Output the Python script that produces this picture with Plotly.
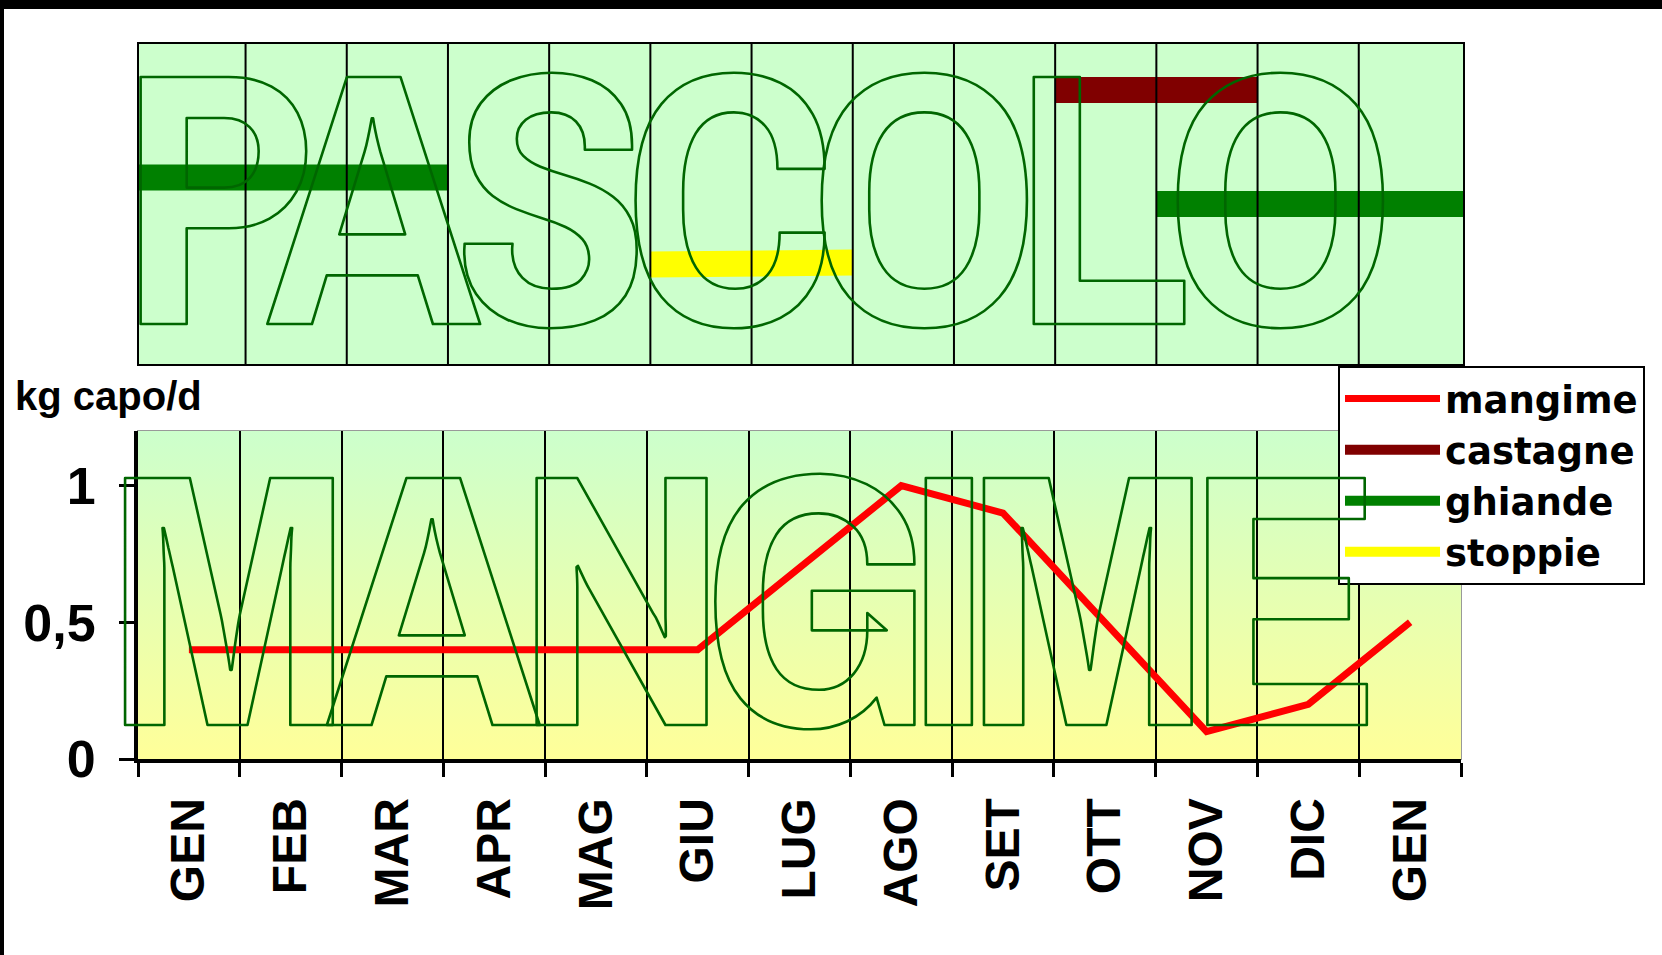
import base64
import plotly.graph_objects as go

# ---------------- data ----------------
months = ["GEN", "FEB", "MAR", "APR", "MAG", "GIU", "LUG", "AGO", "SET", "OTT", "NOV", "DIC", "GEN"]
mangime = [0.4, 0.4, 0.4, 0.4, 0.4, 0.4, 0.7, 1.0, 0.9, 0.5, 0.1, 0.2, 0.5]

# top panel ("PASCOLO"): periods expressed in month boundaries, rows as vertical positions
castagne_x = [9, 11]
castagne_y = [0.856, 0.856]
ghiande_x = [-0.1, 3, None, 10, 13.1]
ghiande_y = [0.583, 0.583, None, 0.5, 0.5]
stoppie_x = [5, 7]
stoppie_y = [0.311, 0.317]

y_ticks = [0, 0.5, 1]

W, H = 1662, 955

fig = go.Figure()

fig.add_trace(go.Scatter(x=list(range(len(months))), y=mangime, mode="lines", name="mangime",
                         line=dict(color="#FF0000", width=7), xaxis="x", yaxis="y"))
fig.add_trace(go.Scatter(x=castagne_x, y=castagne_y, mode="lines", name="castagne",
                         line=dict(color="#800000", width=26), xaxis="x2", yaxis="y2"))
fig.add_trace(go.Scatter(x=ghiande_x, y=ghiande_y, mode="lines", name="ghiande", connectgaps=False,
                         line=dict(color="#008000", width=26), xaxis="x2", yaxis="y2"))
fig.add_trace(go.Scatter(x=stoppie_x, y=stoppie_y, mode="lines", name="stoppie",
                         line=dict(color="#FFFF00", width=26), xaxis="x2", yaxis="y2"))

grad_svg = ("<svg xmlns='http://www.w3.org/2000/svg' width='10' height='100' viewBox='0 0 10 100' "
            "preserveAspectRatio='none'><defs><linearGradient id='g' x1='0' y1='0' x2='0' y2='1'>"
            "<stop offset='0' stop-color='#CCFFCC'/><stop offset='1' stop-color='#FFFF99'/>"
            "</linearGradient></defs><rect width='10' height='100' fill='url(#g)'/></svg>")
grad_src = "data:image/svg+xml;base64," + base64.b64encode(grad_svg.encode()).decode()

shapes = []
# black frame pieces of the slide
shapes.append(dict(type="rect", xref="paper", yref="paper", x0=0, x1=1, y0=1 - 9 / H, y1=1,
                   fillcolor="black", line=dict(width=0), layer="above"))
shapes.append(dict(type="rect", xref="paper", yref="paper", x0=0, x1=4 / W, y0=0, y1=1,
                   fillcolor="black", line=dict(width=0), layer="above"))
# grey border of lower plot area
shapes.append(dict(type="rect", xref="x domain", yref="y domain", x0=0, x1=1, y0=0, y1=1,
                   line=dict(color="#999999", width=2), layer="below"))
# month separators in the upper panel (drawn above the bars)
for k in range(1, len(months)):
    shapes.append(dict(type="line", xref="x2", yref="y2 domain", x0=k, x1=k, y0=0, y1=1,
                       line=dict(color="black", width=2), layer="above"))

outline = "fill:none;stroke:#006600;stroke-width:2.6px;stroke-linejoin:round;letter-spacing:{}px"
big_font = dict(family="Archivo Narrow, PT Sans Narrow, Liberation Sans, Arial", size=360, weight="bold")

annotations = [
    dict(text='<span style="' + outline.format(-27) + '">PASCOLO</span>', xref="paper", yref="paper",
         x=751.5 / W, y=1 - 193 / H, xanchor="center", yanchor="middle", showarrow=False, font=big_font),
    dict(text='<span style="' + outline.format(-25) + '">MANGIME</span>', xref="paper", yref="paper",
         x=738 / W, y=1 - 594 / H, xanchor="center", yanchor="middle", showarrow=False, font=big_font),
    dict(text="kg capo/d", xref="paper", yref="paper", x=13 / W, y=1 - 396 / H,
         xanchor="left", yanchor="middle", showarrow=False,
         font=dict(family="Liberation Sans, Arial", size=40, color="black", weight="bold")),
]

fig.update_layout(
    width=W, height=H, autosize=False,
    margin=dict(l=0, r=0, t=0, b=0, autoexpand=False),
    paper_bgcolor="white", plot_bgcolor="#CCFFCC",
    separators=",.",
    showlegend=True,
    legend=dict(x=1338 / W, y=1 - 366 / H, xanchor="left", yanchor="top",
                bgcolor="white", bordercolor="black", borderwidth=2,
                font=dict(family="DejaVu Sans", size=37, color="black", weight="bold"),
                itemwidth=95, tracegroupgap=0),
    xaxis=dict(domain=[138 / W, 1461 / W], range=[-0.5, len(months) - 0.5], automargin=False,
               tickmode="array", tickvals=list(range(len(months))), ticktext=months,
               ticks="", tickangle=-90, ticklabelstandoff=16,
               tickfont=dict(family="Liberation Sans, Arial", size=48, color="black", weight="bold"),
               showline=True, linecolor="black", linewidth=4, showgrid=False, zeroline=False,
               minor=dict(tickmode="array", tickvals=[i - 0.5 for i in range(len(months) + 1)],
                          ticks="outside", ticklen=14, tickwidth=3, tickcolor="black",
                          showgrid=True, gridcolor="black", gridwidth=2),
               fixedrange=True),
    yaxis=dict(domain=[1 - 759 / H, 1 - 431 / H], range=[0, 1.2], automargin=False,
               tickmode="array", tickvals=y_ticks, ticks="outside", ticklen=15, tickwidth=3,
               tickcolor="black", ticklabelstandoff=13,
               tickfont=dict(family="Liberation Sans, Arial", size=52, color="black", weight="bold"),
               showline=True, linecolor="black", linewidth=4, showgrid=False, zeroline=False,
               fixedrange=True),
    xaxis2=dict(domain=[139 / W, 1463 / W], range=[-0.053, 13.03], anchor="y2", automargin=False,
                showticklabels=False, ticks="", showgrid=False, zeroline=False,
                showline=True, mirror=True, linecolor="black", linewidth=2, fixedrange=True),
    yaxis2=dict(domain=[1 - 364 / H, 1 - 44 / H], range=[0, 1], anchor="x2", automargin=False,
                showticklabels=False, ticks="", showgrid=False, zeroline=False,
                showline=True, mirror=True, linecolor="black", linewidth=2, fixedrange=True),
    images=[dict(source=grad_src, xref="x domain", yref="y domain", x=0, y=1, sizex=1, sizey=1,
                 xanchor="left", yanchor="top", sizing="stretch", layer="below")],
    shapes=shapes,
    annotations=annotations,
)

fig.write_html("out.html", config={"displayModeBar": False},
               post_script="document.body.style.margin='0';document.body.style.overflow='hidden';")
